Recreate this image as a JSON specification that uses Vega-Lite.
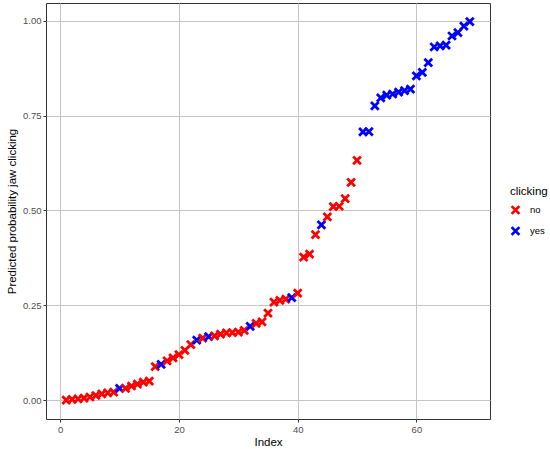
{
  "$schema": "https://vega.github.io/schema/vega-lite/v6.json",
  "autosize": "none",
  "width": 444,
  "height": 416,
  "padding": {"left": 46, "top": 3, "right": 60, "bottom": 30},
  "background": "white",
  "config": {
    "font": "Liberation Sans",
    "view": {"stroke": "#333333", "strokeWidth": 1},
    "axis": {
      "gridColor": "#C4C4C4",
      "gridWidth": 1,
      "domain": false,
      "tickColor": "#333333",
      "tickSize": 3,
      "labelColor": "#4D4D4D",
      "labelFontSize": 9.5,
      "labelFont": "Liberation Sans",
      "titleFont": "Liberation Sans",
      "titleFontSize": 11.5,
      "titleFontWeight": "normal",
      "titleColor": "#000000",
      "labelPadding": 2
    }
  },
  "data": {
    "values": [
      {"Index": 1, "p": 0.000, "clicking": "no"},
      {"Index": 2, "p": 0.002, "clicking": "no"},
      {"Index": 3, "p": 0.003, "clicking": "no"},
      {"Index": 4, "p": 0.005, "clicking": "no"},
      {"Index": 5, "p": 0.008, "clicking": "no"},
      {"Index": 6, "p": 0.012, "clicking": "no"},
      {"Index": 7, "p": 0.016, "clicking": "no"},
      {"Index": 8, "p": 0.019, "clicking": "no"},
      {"Index": 9, "p": 0.021, "clicking": "no"},
      {"Index": 10, "p": 0.031, "clicking": "yes"},
      {"Index": 11, "p": 0.031, "clicking": "no"},
      {"Index": 12, "p": 0.037, "clicking": "no"},
      {"Index": 13, "p": 0.042, "clicking": "no"},
      {"Index": 14, "p": 0.047, "clicking": "no"},
      {"Index": 15, "p": 0.050, "clicking": "no"},
      {"Index": 16, "p": 0.088, "clicking": "no"},
      {"Index": 17, "p": 0.094, "clicking": "yes"},
      {"Index": 18, "p": 0.103, "clicking": "no"},
      {"Index": 19, "p": 0.111, "clicking": "no"},
      {"Index": 20, "p": 0.120, "clicking": "no"},
      {"Index": 21, "p": 0.131, "clicking": "no"},
      {"Index": 22, "p": 0.146, "clicking": "no"},
      {"Index": 23, "p": 0.158, "clicking": "yes"},
      {"Index": 24, "p": 0.163, "clicking": "no"},
      {"Index": 25, "p": 0.167, "clicking": "yes"},
      {"Index": 26, "p": 0.169, "clicking": "no"},
      {"Index": 27, "p": 0.174, "clicking": "no"},
      {"Index": 28, "p": 0.177, "clicking": "no"},
      {"Index": 29, "p": 0.178, "clicking": "no"},
      {"Index": 30, "p": 0.179, "clicking": "no"},
      {"Index": 31, "p": 0.184, "clicking": "no"},
      {"Index": 32, "p": 0.194, "clicking": "yes"},
      {"Index": 33, "p": 0.202, "clicking": "no"},
      {"Index": 34, "p": 0.206, "clicking": "no"},
      {"Index": 35, "p": 0.229, "clicking": "no"},
      {"Index": 36, "p": 0.258, "clicking": "no"},
      {"Index": 37, "p": 0.263, "clicking": "no"},
      {"Index": 38, "p": 0.266, "clicking": "no"},
      {"Index": 39, "p": 0.270, "clicking": "yes"},
      {"Index": 40, "p": 0.282, "clicking": "no"},
      {"Index": 41, "p": 0.377, "clicking": "no"},
      {"Index": 42, "p": 0.385, "clicking": "no"},
      {"Index": 43, "p": 0.436, "clicking": "no"},
      {"Index": 44, "p": 0.462, "clicking": "yes"},
      {"Index": 45, "p": 0.483, "clicking": "no"},
      {"Index": 46, "p": 0.510, "clicking": "no"},
      {"Index": 47, "p": 0.511, "clicking": "no"},
      {"Index": 48, "p": 0.531, "clicking": "no"},
      {"Index": 49, "p": 0.574, "clicking": "no"},
      {"Index": 50, "p": 0.632, "clicking": "no"},
      {"Index": 51, "p": 0.707, "clicking": "yes"},
      {"Index": 52, "p": 0.708, "clicking": "yes"},
      {"Index": 53, "p": 0.776, "clicking": "yes"},
      {"Index": 54, "p": 0.797, "clicking": "yes"},
      {"Index": 55, "p": 0.804, "clicking": "yes"},
      {"Index": 56, "p": 0.807, "clicking": "yes"},
      {"Index": 57, "p": 0.812, "clicking": "yes"},
      {"Index": 58, "p": 0.816, "clicking": "yes"},
      {"Index": 59, "p": 0.820, "clicking": "yes"},
      {"Index": 60, "p": 0.855, "clicking": "yes"},
      {"Index": 61, "p": 0.864, "clicking": "yes"},
      {"Index": 62, "p": 0.890, "clicking": "yes"},
      {"Index": 63, "p": 0.931, "clicking": "yes"},
      {"Index": 64, "p": 0.934, "clicking": "yes"},
      {"Index": 65, "p": 0.936, "clicking": "yes"},
      {"Index": 66, "p": 0.960, "clicking": "yes"},
      {"Index": 67, "p": 0.969, "clicking": "yes"},
      {"Index": 68, "p": 0.986, "clicking": "yes"},
      {"Index": 69, "p": 0.998, "clicking": "yes"}
    ]
  },
  "mark": {
    "type": "point",
    "shape": "M-1,-1L1,1M1,-1L-1,1",
    "filled": false,
    "strokeWidth": 2.8,
    "size": 60,
    "opacity": 1
  },
  "encoding": {
    "x": {
      "field": "Index",
      "type": "quantitative",
      "scale": {"domain": [-2.4, 72.4], "nice": false, "zero": false},
      "axis": {"values": [0, 20, 40, 60], "title": "Index", "titlePadding": 3}
    },
    "y": {
      "field": "p",
      "type": "quantitative",
      "scale": {"domain": [-0.05, 1.047], "nice": false, "zero": false},
      "axis": {"values": [0, 0.25, 0.5, 0.75, 1], "format": ".2f", "title": "Predicted probability jaw clicking", "titlePadding": 5}
    },
    "color": {
      "field": "clicking",
      "type": "nominal",
      "scale": {"domain": ["no", "yes"], "range": ["#FF0000", "#0000FF"]},
      "legend": {
        "title": "clicking",
        "orient": "none",
        "legendX": 464,
        "legendY": 183,
        "titleFont": "Liberation Sans",
        "titleFontSize": 11.5,
        "titleFontWeight": "normal",
        "titleColor": "#000000",
        "labelFont": "Liberation Sans",
        "labelFontSize": 9.5,
        "labelColor": "#000000",
        "symbolSize": 60,
        "symbolStrokeWidth": 2.8,
        "rowPadding": 2,
        "titlePadding": 7,
        "labelOffset": 9
      }
    }
  }
}
